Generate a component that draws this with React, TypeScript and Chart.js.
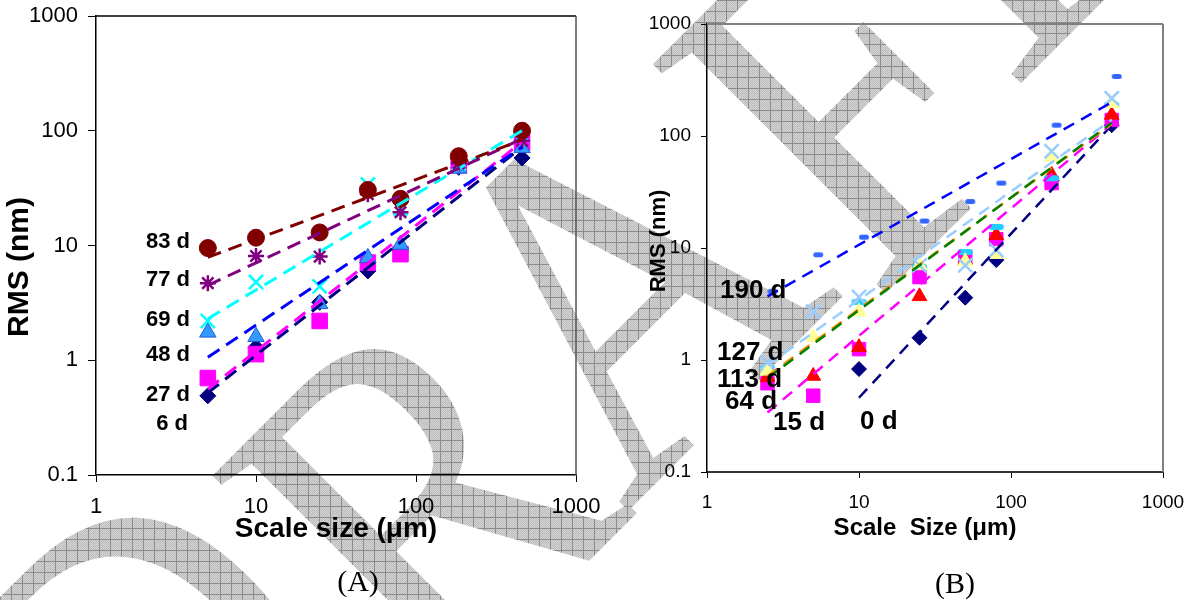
import React, { useEffect, useRef } from 'react';
import { Chart, registerables } from 'chart.js';

Chart.register(...registerables);

const SANS = "'Liberation Sans', Arial, Helvetica, sans-serif";
const SERIF = "'Liberation Serif', 'Times New Roman', serif";

// ---------- axis ticks ----------
const X_TICKS = [1, 10, 100, 1000];
const Y_TICKS = [0.1, 1, 10, 100, 1000];

// ---------- panel A (scale size in µm, RMS in nm) ----------
const A_SCALES = [5, 10, 25, 50, 80, 185, 460];
const A_6D = [0.49, 1.3, 3.2, 6.0, 9.0, 48, 58];
const A_27D = [0.7, 1.13, 2.2, 7.1, 8.4, 50, 79];
const A_48D = [1.75, 1.6, 3.1, 7.8, 10.2, 47, 71];
const A_69D = [2.2, 4.8, 4.4, 34, 21, 52, 92];
const A_77D = [4.7, 8.1, 8.0, 28, 19.5, 52, 82];
const A_83D = [9.5, 11.7, 13, 30.5, 25.5, 60, 100];

// power-law trend lines of panel A (end points)
const A_FIT_X = [5, 460];
const A_FIT_6D = [0.52, 72];
const A_FIT_27D = [0.56, 80];
const A_FIT_48D = [1.06, 72];
const A_FIT_69D = [2.3, 100];
const A_FIT_77D = [4.5, 85];
const A_FIT_83D = [7.9, 83];

// ---------- panel B ----------
const B_SCALES = [2.5, 5, 10, 25, 50, 80, 185, 460];
const B_0D_X = [10, 25, 50, 80, 185, 460];
const B_0D = [0.83, 1.58, 3.6, 7.8, 40, 125];
const B_SQUARES = [0.62, 0.48, 1.25, 5.5, 8.3, 12, 38, 139];
const B_RED_TRI = [0.7, 0.72, 1.3, 3.7, 7.8, 13, 45, 154];
const B_YELLOW_TRI = [0.8, 1.6, 2.7, 7.0, 7.6, 8.8, 65, 196];
const B_CYAN_X = [2.5, 10, 25, 50, 80, 185, 460];
const B_CYAN = [0.85, 3.3, 6.8, 9.2, 15.4, 42, 190];
const B_CROSSES = [0.95, 2.7, 3.65, 7.0, 7.0, 9.6, 73, 217];
const B_190D = [4.1, 8.7, 12.5, 17.4, 26, 38, 125, 340];

// power-law trend lines of panel B (end points)
const B_FIT_X = [2.5, 460];
const B_FIT_0D_X = [10, 460];
const B_FIT_0D = [0.46, 125];
const B_FIT_MAGENTA = [0.34, 128];
const B_FIT_ORANGE = [0.72, 128];
const B_FIT_GREEN = [0.69, 131];
const B_FIT_LIGHT = [0.9, 140];
const B_FIT_190D = [3.7, 200];

// ---------- watermark ----------
const WM_TEXT = 'DRAFT';
const WM_X = 203;
const WM_Y = 941;
const WM_ANGLE = -45;
const WM_SIZE = 430;
const WM_STRETCH = 1.16;
const WM_NUDGE = [
  [-45, -40],
  [12, -6],
  [0, -5],
  [30, 5],
  [-40, 0],
];

const pts = (xs: number[], ys: number[]) => ys.map((y, i) => ({ x: xs[i], y }));

function markerSet(label: string, xs: number[], ys: number[], style: any, order: number) {
  return { label, data: pts(xs, ys), showLine: false, order, ...style };
}

function fitLine(label: string, xs: number[], ys: number[], color: string, width: number, dash: number[], order: number) {
  return {
    label,
    data: pts(xs, ys),
    showLine: true,
    pointRadius: 0,
    pointHoverRadius: 0,
    borderColor: color,
    backgroundColor: color,
    borderWidth: width,
    borderDash: dash,
    borderCapStyle: 'butt',
    fill: false,
    tension: 0,
    order,
  };
}

function barImage(color: string, w: number, h: number, shift: number) {
  const c = document.createElement('canvas');
  c.width = Math.ceil(w + 2 * Math.abs(shift) + 2);
  c.height = Math.ceil(h + 2);
  const g = c.getContext('2d')!;
  const cx = c.width / 2 + shift;
  const cy = c.height / 2;
  g.fillStyle = color;
  const r = h / 2;
  g.beginPath();
  g.moveTo(cx - w / 2 + r, cy - h / 2);
  g.lineTo(cx + w / 2 - r, cy - h / 2);
  g.arc(cx + w / 2 - r, cy, r, -Math.PI / 2, Math.PI / 2);
  g.lineTo(cx - w / 2 + r, cy + h / 2);
  g.arc(cx - w / 2 + r, cy, r, Math.PI / 2, (3 * Math.PI) / 2);
  g.closePath();
  g.fill();
  return c;
}

type TextItem = { text: string; x: number; y: number; font: string; align?: CanvasTextAlign; rot?: number };

function decorPlugin(id: string, texts: TextItem[], topColor: string, rightColor: string, frameWidth: number) {
  return {
    id,
    afterDraw(chart: any) {
      const { ctx, chartArea: a } = chart;
      ctx.save();
      ctx.lineWidth = frameWidth;
      ctx.strokeStyle = topColor;
      ctx.beginPath();
      ctx.moveTo(a.left, a.top);
      ctx.lineTo(a.right, a.top);
      ctx.stroke();
      ctx.strokeStyle = rightColor;
      ctx.beginPath();
      ctx.moveTo(a.right, a.top);
      ctx.lineTo(a.right, a.bottom);
      ctx.stroke();
      for (const t of texts) {
        ctx.save();
        ctx.translate(t.x, t.y);
        if (t.rot) ctx.rotate(t.rot);
        ctx.font = t.font;
        ctx.fillStyle = '#000';
        ctx.textAlign = t.align || 'center';
        ctx.textBaseline = 'middle';
        ctx.fillText(t.text, 0, 0);
        ctx.restore();
      }
      ctx.restore();
    },
  };
}

function logAxis(o: {
  ticks: number[];
  horizontal: boolean;
  fit: number;
  fontSize: number;
  tickLength: number;
  padding: number;
  borderColor: string;
  borderWidth: number;
}) {
  return {
    type: 'logarithmic',
    position: o.horizontal ? 'bottom' : 'left',
    min: o.ticks[0],
    max: o.ticks[o.ticks.length - 1],
    afterBuildTicks: (s: any) => {
      s.ticks = o.ticks.map((v) => ({ value: v }));
    },
    afterFit: (s: any) => {
      if (o.horizontal) s.height = o.fit;
      else s.width = o.fit;
      s.paddingTop = 0;
      s.paddingBottom = 0;
      s.paddingLeft = 0;
      s.paddingRight = 0;
    },
    ticks: {
      autoSkip: false,
      maxRotation: 0,
      minRotation: 0,
      color: '#000',
      padding: o.padding,
      font: { family: SANS, size: o.fontSize },
      callback: (v: any) => String(v),
    },
    grid: { drawOnChartArea: false, drawTicks: true, tickLength: o.tickLength, color: '#000', lineWidth: 1 },
    border: { display: true, color: o.borderColor, width: o.borderWidth },
    title: { display: false },
  };
}

function configA() {
  const dash = [14, 8];
  const datasets = [
    fitLine('83 d fit', A_FIT_X, A_FIT_83D, '#800000', 3, dash, 0),
    fitLine('77 d fit', A_FIT_X, A_FIT_77D, '#800080', 3, dash, 1),
    fitLine('69 d fit', A_FIT_X, A_FIT_69D, '#00FFFF', 3, dash, 2),
    fitLine('48 d fit', A_FIT_X, A_FIT_48D, '#0000FF', 3, dash, 3),
    fitLine('27 d fit', A_FIT_X, A_FIT_27D, '#FF00FF', 3, dash, 4),
    fitLine('6 d fit', A_FIT_X, A_FIT_6D, '#000080', 3, dash, 5),
    markerSet('83 d', A_SCALES, A_83D, { pointStyle: 'circle', pointRadius: 8.5, backgroundColor: '#800000', borderColor: '#800000', borderWidth: 1 }, 10),
    markerSet('77 d', A_SCALES, A_77D, { pointStyle: 'star', pointRadius: 8, backgroundColor: '#800080', borderColor: '#800080', borderWidth: 2.5 }, 11),
    markerSet('69 d', A_SCALES, A_69D, { pointStyle: 'crossRot', pointRadius: 10, backgroundColor: '#00FFFF', borderColor: '#00FFFF', borderWidth: 2.5 }, 12),
    markerSet('48 d', A_SCALES, A_48D, { pointStyle: 'triangle', pointRadius: 9.5, backgroundColor: '#3399FF', borderColor: '#1F5FD0', borderWidth: 1 }, 13),
    markerSet('27 d', A_SCALES, A_27D, { pointStyle: 'rect', pointRadius: 11, backgroundColor: '#FF00FF', borderColor: '#FF00FF', borderWidth: 1 }, 14),
    markerSet('6 d', A_SCALES, A_6D, { pointStyle: 'rectRot', pointRadius: 8, backgroundColor: '#000080', borderColor: '#000080', borderWidth: 1 }, 15),
  ];
  const lab = `bold 22px ${SANS}`;
  const texts: TextItem[] = [
    { text: 'RMS (nm)', x: 20, y: 267, font: `bold 30px ${SANS}`, rot: -Math.PI / 2 },
    { text: 'Scale size (μm)', x: 336, y: 529, font: `bold 28px ${SANS}` },
    { text: '83 d', x: 190, y: 242, font: lab, align: 'right' },
    { text: '77 d', x: 190, y: 280, font: lab, align: 'right' },
    { text: '69 d', x: 190, y: 320, font: lab, align: 'right' },
    { text: '48 d', x: 190, y: 355, font: lab, align: 'right' },
    { text: '27 d', x: 190, y: 395, font: lab, align: 'right' },
    { text: '6 d', x: 188, y: 424, font: lab, align: 'right' },
    { text: '(A)', x: 358, y: 583, font: `30px ${SERIF}` },
  ];
  return {
    type: 'scatter',
    data: { datasets },
    options: {
      responsive: false,
      maintainAspectRatio: false,
      animation: false,
      devicePixelRatio: 1,
      events: [],
      layout: { padding: { top: 16, right: 36, left: 0, bottom: 0 } },
      plugins: { legend: { display: false }, tooltip: { enabled: false } },
      scales: {
        x: logAxis({ ticks: X_TICKS, horizontal: true, fit: 125, fontSize: 22, tickLength: 7, padding: 12, borderColor: '#000', borderWidth: 1.5 }),
        y: logAxis({ ticks: Y_TICKS, horizontal: false, fit: 96, fontSize: 22, tickLength: 8, padding: 10, borderColor: '#000', borderWidth: 1.5 }),
      },
    },
    plugins: [decorPlugin('decorA', texts, '#000', '#555', 1.5)],
  };
}

function configB() {
  const dash = [12, 8];
  const blueDash = barImage('#3366FF', 10, 5, 5);
  const cyanBar = barImage('#22CCFF', 15, 6, 0);
  const datasets = [
    fitLine('190 d fit', B_FIT_X, B_FIT_190D, '#0000FF', 2.5, dash, 0),
    fitLine('light blue fit', B_FIT_X, B_FIT_LIGHT, '#99CCFF', 2.5, dash, 1),
    fitLine('green fit', B_FIT_X, B_FIT_GREEN, '#008000', 2.5, dash, 2),
    fitLine('orange fit', B_FIT_X, B_FIT_ORANGE, '#FF8C00', 2.5, dash, 3),
    fitLine('magenta fit', B_FIT_X, B_FIT_MAGENTA, '#FF00FF', 2.5, dash, 4),
    fitLine('0 d fit', B_FIT_0D_X, B_FIT_0D, '#000080', 2.5, dash, 5),
    markerSet('190 d', B_SCALES, B_190D, { pointStyle: blueDash, pointRadius: 6 }, 10),
    markerSet('crosses', B_SCALES, B_CROSSES, { pointStyle: 'crossRot', pointRadius: 10, backgroundColor: '#99CCFF', borderColor: '#99CCFF', borderWidth: 2.5 }, 11),
    markerSet('yellow triangles', B_SCALES, B_YELLOW_TRI, { pointStyle: 'triangle', pointRadius: 8.5, backgroundColor: '#FFFF99', borderColor: '#FFFF99', borderWidth: 1 }, 12),
    markerSet('cyan bars', B_CYAN_X, B_CYAN, { pointStyle: cyanBar, pointRadius: 7 }, 13),
    markerSet('red triangles', B_SCALES, B_RED_TRI, { pointStyle: 'triangle', pointRadius: 8.5, backgroundColor: '#FF0000', borderColor: '#FF0000', borderWidth: 1 }, 14),
    markerSet('magenta squares', B_SCALES, B_SQUARES, { pointStyle: 'rect', pointRadius: 9.5, backgroundColor: '#FF00FF', borderColor: '#FF00FF', borderWidth: 1 }, 15),
    markerSet('0 d', B_0D_X, B_0D, { pointStyle: 'rectRot', pointRadius: 7.5, backgroundColor: '#000080', borderColor: '#000080', borderWidth: 1 }, 16),
  ];
  const lab = `bold 26px ${SANS}`;
  const texts: TextItem[] = [
    { text: 'RMS (nm)', x: 47, y: 241, font: `bold 22px ${SANS}`, rot: -Math.PI / 2 },
    { text: 'Scale  Size (μm)', x: 313, y: 528, font: `bold 24px ${SANS}` },
    { text: '190 d', x: 108, y: 291, font: lab, align: 'left' },
    { text: '127 d', x: 105, y: 353, font: lab, align: 'left' },
    { text: '113 d', x: 105, y: 380, font: lab, align: 'left' },
    { text: '64 d', x: 113, y: 402, font: lab, align: 'left' },
    { text: '15 d', x: 161, y: 423, font: lab, align: 'left' },
    { text: '0 d', x: 248, y: 422, font: lab, align: 'left' },
    { text: '(B)', x: 343, y: 585, font: `30px ${SERIF}` },
  ];
  return {
    type: 'scatter',
    data: { datasets },
    options: {
      responsive: false,
      maintainAspectRatio: false,
      animation: false,
      devicePixelRatio: 1,
      events: [],
      layout: { padding: { top: 24, right: 31, left: 0, bottom: 0 } },
      plugins: { legend: { display: false }, tooltip: { enabled: false } },
      scales: {
        x: logAxis({ ticks: X_TICKS, horizontal: true, fit: 128, fontSize: 19, tickLength: 6, padding: 13, borderColor: '#333', borderWidth: 2 }),
        y: logAxis({ ticks: Y_TICKS, horizontal: false, fit: 95, fontSize: 19, tickLength: 6, padding: 10, borderColor: '#000', borderWidth: 1.5 }),
      },
    },
    plugins: [decorPlugin('decorB', texts, '#808080', '#808080', 2)],
  };
}

function drawWatermark(canvas: HTMLCanvasElement) {
  const W = canvas.width;
  const H = canvas.height;
  const ctx = canvas.getContext('2d')!;
  ctx.clearRect(0, 0, W, H);
  const mask = document.createElement('canvas');
  mask.width = W;
  mask.height = H;
  const m = mask.getContext('2d')!;
  m.font = `${WM_SIZE}px ${SERIF}`;
  m.textAlign = 'left';
  m.textBaseline = 'alphabetic';
  m.fillStyle = '#000';
  for (let i = 0; i < WM_TEXT.length; i++) {
    const advance = m.measureText(WM_TEXT.slice(0, i)).width;
    const [dx, dy] = WM_NUDGE[i] || [0, 0];
    m.save();
    m.translate(WM_X + dx, WM_Y + dy);
    m.rotate((WM_ANGLE * Math.PI) / 180);
    m.scale(1, WM_STRETCH);
    m.fillText(WM_TEXT[i], advance, 0);
    m.restore();
  }
  const tile = document.createElement('canvas');
  tile.width = 11;
  tile.height = 11;
  const t = tile.getContext('2d')!;
  t.fillStyle = '#d4d4d4';
  t.fillRect(0, 0, 11, 11);
  t.fillStyle = '#bcbcbc';
  for (let yy = 0; yy < 11; yy++) for (let xx = 0; xx < 11; xx++) if ((xx + yy) % 2 === 0) t.fillRect(xx, yy, 1, 1);
  t.fillStyle = '#8c8c8c';
  t.fillRect(0, 0, 11, 1);
  t.fillRect(0, 0, 1, 11);
  m.globalCompositeOperation = 'source-in';
  m.fillStyle = m.createPattern(tile, 'repeat')!;
  m.fillRect(0, 0, W, H);
  ctx.drawImage(mask, 0, 0);
}

function Watermark() {
  const ref = useRef<HTMLCanvasElement>(null);
  useEffect(() => {
    if (ref.current) drawWatermark(ref.current);
  }, []);
  return <canvas ref={ref} width={1194} height={600} style={{ position: 'absolute', left: 0, top: 0, width: 1194, height: 600 }} />;
}

function Panel({ left, width, make }: { left: number; width: number; make: () => any }) {
  const ref = useRef<HTMLCanvasElement>(null);
  useEffect(() => {
    const chart = new Chart(ref.current as HTMLCanvasElement, make());
    return () => chart.destroy();
  }, []);
  return <canvas ref={ref} width={width} height={600} style={{ position: 'absolute', left, top: 0, width, height: 600 }} />;
}

export default function App() {
  return (
    <div style={{ position: 'fixed', left: 0, top: 0, width: 1194, height: 600, background: '#fff', overflow: 'hidden' }}>
      <Watermark />
      <Panel left={0} width={612} make={configA} />
      <Panel left={612} width={582} make={configB} />
    </div>
  );
}
